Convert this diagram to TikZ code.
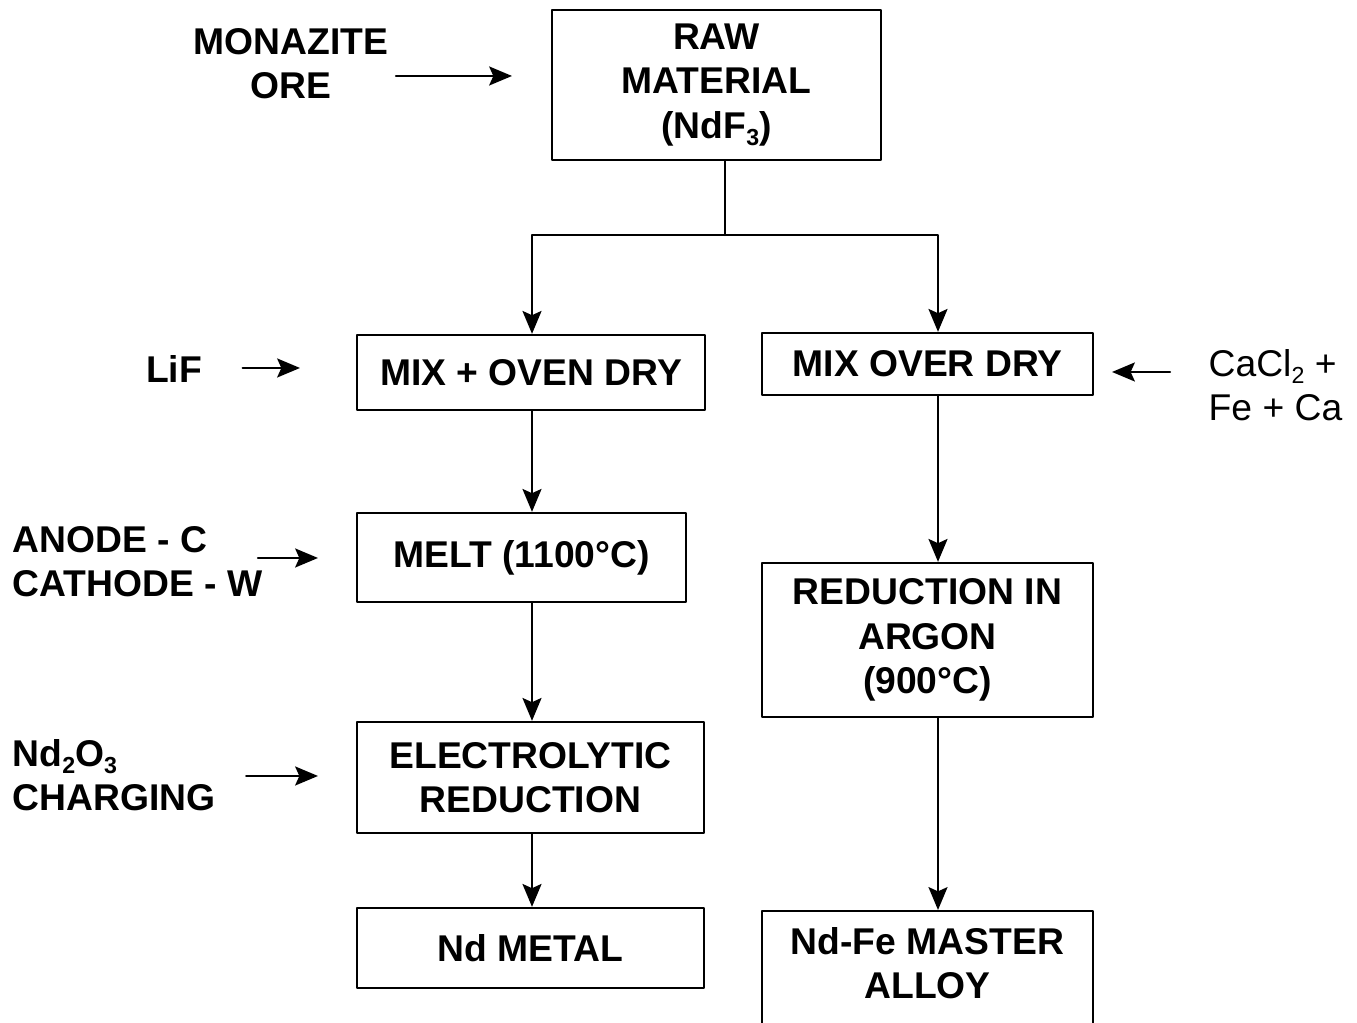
\documentclass[tikz,border=0pt]{standalone}
\usepackage{fontspec}
\setmainfont{Liberation Sans}
\usetikzlibrary{arrows.meta}

\newcommand{\subidx}[1]{\raisebox{-0.35ex}{\fontsize{6.6pt}{6.6pt}\selectfont #1}}

\begin{document}
\begin{tikzpicture}[
    >={Stealth[length=6.5pt,width=5.4pt,inset=1.2pt]},
    line cap=round,
    line join=round,
    stepbox/.style={draw,line width=0.65pt,align=center,inner sep=0pt,
        font=\fontsize{10.6pt}{12.6pt}\selectfont\bfseries},
    feed/.style={align=left,inner sep=0pt,
        font=\fontsize{10.6pt}{12.6pt}\selectfont\bfseries},
    flow/.style={->,line width=0.65pt}
]

% Page frame
\useasboundingbox (0,0) rectangle (13.57,10.23);
\clip (0,0) rectangle (13.57,10.23);

% Raw material at the top
\node[stepbox,minimum width=3.29cm,minimum height=1.50cm] (raw)
    at (7.165,9.38) {RAW\\MATERIAL\\(NdF\subidx{3})};

% Left branch: electrolytic route
\node[stepbox,minimum width=3.48cm,minimum height=0.75cm] (mixoven)
    at (5.31,6.505) {MIX + OVEN DRY};
\node[stepbox,minimum width=3.29cm,minimum height=0.89cm] (melt)
    at (5.215,4.655) {MELT (1100°C)};
\node[stepbox,minimum width=3.47cm,minimum height=1.11cm] (electro)
    at (5.305,2.455) {ELECTROLYTIC\\REDUCTION};
\node[stepbox,minimum width=3.47cm,minimum height=0.80cm] (metal)
    at (5.305,0.75) {Nd METAL};

% Right branch: calciothermic route
\node[stepbox,minimum width=3.31cm,minimum height=0.62cm] (mixover)
    at (9.275,6.59) {MIX OVER DRY};
\node[stepbox,minimum width=3.31cm,minimum height=1.54cm] (reduction)
    at (9.275,3.83) {REDUCTION IN\\ARGON\\(900°C)};
\node[stepbox,minimum width=3.31cm,minimum height=1.30cm,text depth=0.26cm,
    anchor=north] (alloy) at (9.275,1.13) {Nd-Fe MASTER\\ALLOY};

% Feed materials
\node[feed,align=center] (ore) at (2.91,9.59) {MONAZITE\\ORE};
\node[feed] (lif) at (1.74,6.54) {LiF};
\node[feed,anchor=west] (anode) at (0.12,4.61) {ANODE - C\\CATHODE - W};
\node[feed,anchor=west] (oxide) at (0.12,2.48) {Nd\subidx{2}O\subidx{3}\\CHARGING};
\node[feed,anchor=west,font=\fontsize{10.6pt}{12.6pt}\selectfont] (calcium)
    at (12.08,6.38) {CaCl\subidx{2} +\\Fe + Ca};

% Column lines
\coordinate (split) at (7.25,7.88);
\coordinate (leftcol) at (5.32,0);
\coordinate (rightcol) at (9.38,0);

% Split below the raw material
\draw[line width=0.65pt] (raw.south -| split) -- (split);
\draw[flow] (split) -| (mixoven.north -| leftcol);
\draw[flow] (split) -| (mixover.north -| rightcol);

% Left column arrows
\draw[flow] (mixoven.south -| leftcol) -- (melt.north -| leftcol);
\draw[flow] (melt.south -| leftcol) -- (electro.north -| leftcol);
\draw[flow] (electro.south -| leftcol) -- (metal.north -| leftcol);

% Right column arrows
\draw[flow] (mixover.south -| rightcol) -- (reduction.north -| rightcol);
\draw[flow] (reduction.south -| rightcol) -- (alloy.north -| rightcol);

% Feed arrows
\coordinate (oreend) at (5.12,9.47);
\coordinate (lifend) at (3.00,6.55);
\coordinate (anodeend) at (3.18,4.65);
\coordinate (oxideend) at (3.18,2.47);
\coordinate (calciumend) at (11.12,6.51);

\draw[flow] ([xshift=0.07cm]ore.east |- oreend) -- (oreend);
\draw[flow] ([xshift=0.40cm]lif.east |- lifend) -- (lifend);
\draw[flow] (2.58,4.65 |- anodeend) -- (anodeend);
\draw[flow] ([xshift=0.30cm]oxide.east |- oxideend) -- (oxideend);
\draw[flow] ([xshift=-0.38cm]calcium.west |- calciumend) -- (calciumend);

\end{tikzpicture}
\end{document}
